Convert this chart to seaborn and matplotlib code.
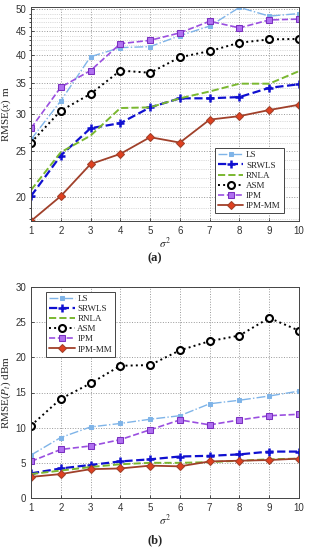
import matplotlib
matplotlib.use("Agg")
import matplotlib.pyplot as plt
import seaborn as sns
from matplotlib.ticker import FixedLocator, NullFormatter, FuncFormatter

sns.set_style("ticks")
plt.rcParams['font.family'] = ['Liberation Sans', 'DejaVu Sans']
plt.rcParams['mathtext.fontset'] = 'stix'

sigma2 = [1, 2, 3, 4, 5, 6, 7, 8, 9, 10]

# panel (a): RMSE(x) in m
ls_a = [26.5, 32.0, 39.7, 41.5, 41.7, 44.0, 46.1, 50.5, 48.4, 49.0]
srwls_a = [20.1, 24.5, 28.0, 28.7, 31.0, 32.4, 32.4, 32.6, 34.1, 34.7]
rnla_a = [20.7, 24.9, 27.0, 30.9, 31.0, 32.4, 33.5, 34.8, 34.8, 37.0]
asm_a = [26.1, 30.5, 33.1, 37.1, 36.7, 39.6, 40.8, 42.5, 43.2, 43.3]
ipm_a = [28.0, 34.2, 37.1, 42.3, 43.0, 44.6, 47.2, 45.7, 47.5, 47.7]
ipmmm_a = [17.8, 20.1, 23.5, 24.7, 26.8, 26.1, 29.2, 29.7, 30.6, 31.4]

# panel (b): RMSE(Pt) in dBm
ls_b = [6.1, 8.6, 10.1, 10.6, 11.2, 11.7, 13.4, 13.9, 14.5, 15.2]
srwls_b = [3.5, 4.2, 4.7, 5.2, 5.5, 5.9, 6.0, 6.2, 6.6, 6.6]
rnla_b = [3.4, 3.9, 4.4, 4.8, 5.0, 5.0, 5.1, 5.3, 5.5, 5.6]
asm_b = [10.3, 14.1, 16.3, 18.8, 18.9, 21.0, 22.3, 23.1, 25.6, 23.8]
ipm_b = [5.2, 6.9, 7.4, 8.3, 9.7, 11.1, 10.4, 11.1, 11.7, 11.9]
ipmmm_b = [3.0, 3.4, 4.1, 4.2, 4.6, 4.5, 5.2, 5.3, 5.4, 5.6]

names = ["LS", "SRWLS", "RNLA", "ASM", "IPM", "IPM-MM"]
styles = {
    "LS": dict(color="#7fb4e8", linestyle="-.", marker="s", markersize=2.5, lw=1.0,
               markerfacecolor="#7fb4e8", markeredgecolor="#7fb4e8"),
    "SRWLS": dict(color="#1010d0", linestyle="--", marker="+", markersize=6, lw=1.6,
                  markeredgewidth=1.8, markeredgecolor="#1010d0"),
    "RNLA": dict(color="#7ab830", linestyle="--", marker=None, lw=1.4),
    "ASM": dict(color="black", linestyle=":", marker="o", markersize=5, lw=1.4,
                markerfacecolor="white", markeredgecolor="black", markeredgewidth=1.5),
    "IPM": dict(color="#9a4fe0", linestyle="--", marker="s", markersize=4.5, lw=1.2,
                markerfacecolor="#b070f0", markeredgecolor="#7a30c0"),
    "IPM-MM": dict(color="#a0402a", linestyle="-", marker="D", markersize=4, lw=1.3,
                   markerfacecolor="#e04020", markeredgecolor="#a0402a"),
}

W, H = 309, 550
fig = plt.figure(figsize=(W / 100, H / 100), dpi=100)
ax_a = fig.add_axes([31 / W, (H - 221) / H, 268 / W, 214 / H])
ax_b = fig.add_axes([31 / W, (H - 498) / H, 268 / W, 211 / H])

serif = ['Liberation Serif', 'DejaVu Serif']
leg_kw = dict(prop={'family': serif, 'size': 6.5}, handlelength=2.8, handletextpad=0.3,
              labelspacing=0.2, borderpad=0.35, fancybox=False, edgecolor="#444444",
              framealpha=1)


def draw(ax, series):
    for name, vals in zip(names, series):
        sns.lineplot(x=sigma2, y=vals, ax=ax, label=name, **styles[name])
    ax.set_xlim(1, 10)
    ax.set_xticks(sigma2)
    ax.tick_params(labelsize=7, length=2, width=0.6, direction="in", colors="#333333")
    for s in ax.spines.values():
        s.set_linewidth(0.7)
        s.set_color("#444444")
    ax.set_xlabel(r"$\sigma^2$", fontsize=8, labelpad=0)
    ax.grid(True, which="major", linestyle=":", color="#999999", lw=0.7)


draw(ax_a, [ls_a, srwls_a, rnla_a, asm_a, ipm_a, ipmmm_a])
ax_a.set_yscale("log")
ax_a.set_ylim(17.8, 50.6)
ax_a.yaxis.set_major_locator(FixedLocator([20, 25, 30, 35, 40, 45, 50]))
ax_a.yaxis.set_minor_locator(FixedLocator([v for v in range(18, 51) if v % 5]))
ax_a.yaxis.set_major_formatter(FuncFormatter(lambda v, p: f"{v:.0f}"))
ax_a.yaxis.set_minor_formatter(NullFormatter())
ax_a.grid(True, which="minor", axis="y", linestyle=":", color="#bbbbbb", lw=0.5)
ax_a.tick_params(which="minor", length=1.2)
ax_a.set_ylabel(r"RMSE($x$) m", fontsize=8, family=serif, labelpad=2)
leg = ax_a.legend(loc="lower right", bbox_to_anchor=(0.96, 0.015), **leg_kw)
leg.get_frame().set_linewidth(0.7)

draw(ax_b, [ls_b, srwls_b, rnla_b, asm_b, ipm_b, ipmmm_b])
ax_b.set_ylim(0, 30)
ax_b.set_yticks([0, 5, 10, 15, 20, 25, 30])
ax_b.set_ylabel(r"RMSE($P_t$) dBm", fontsize=8, family=serif, labelpad=2)
leg = ax_b.legend(loc="upper left", bbox_to_anchor=(0.04, 1.0), **leg_kw)
leg.get_frame().set_linewidth(0.7)

fig.text(155 / W, 1 - 258 / H, "(a)", ha="center", va="center", fontsize=9,
         fontweight="bold", family=serif)
fig.text(155 / W, 1 - 540 / H, "(b)", ha="center", va="center", fontsize=9,
         fontweight="bold", family=serif)

fig.canvas.draw()
shown = [t.get_text() for t in ax_a.get_yticklabels() if t.get_text()]
assert len(shown) == 7, shown

fig.savefig("out.png", dpi=100)
